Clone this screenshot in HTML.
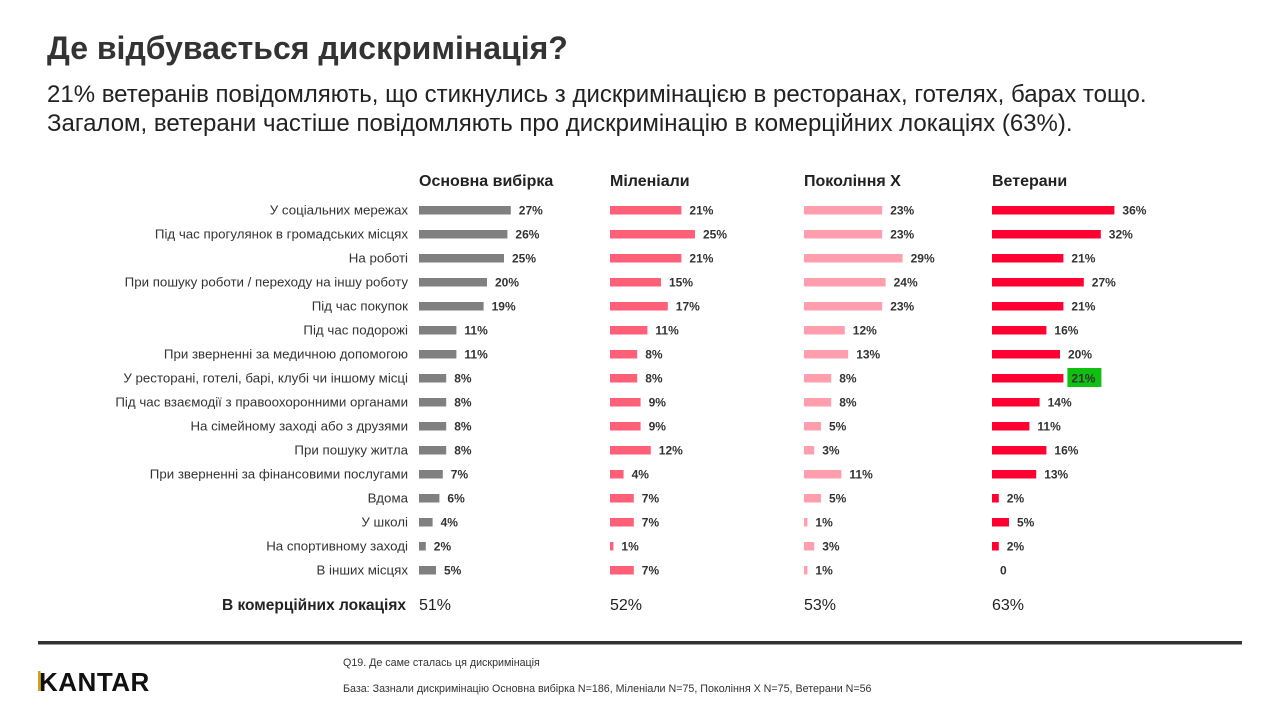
<!DOCTYPE html>
<html><head><meta charset="utf-8"><style>
body{margin:0;width:1280px;height:720px;background:#fff;font-family:"Liberation Sans",sans-serif;color:#333;overflow:hidden;position:relative}
.t{position:absolute;left:47px;top:30px;font-size:32px;font-weight:bold;color:#333}
.s{position:absolute;left:47px;top:80px;font-size:24px;line-height:29px;color:#222}
svg{position:absolute;left:0;top:0}
</style></head><body>
<div class="t">Де відбувається дискримінація?</div>
<div class="s">21% ветеранів повідомляють, що стикнулись з дискримінацією в ресторанах, готелях, барах тощо.<br>Загалом, ветерани частіше повідомляють про дискримінацію в комерційних локаціях (63%).</div>
<svg id="c" width="1280" height="720" xmlns="http://www.w3.org/2000/svg" font-family="Liberation Sans, sans-serif"></svg>
<script>
const labels=["У соціальних мережах","Під час прогулянок в громадських місцях","На роботі","При пошуку роботи / переходу на іншу роботу","Під час покупок","Під час подорожі","При зверненні за медичною допомогою","У ресторані, готелі, барі, клубі чи іншому місці","Під час взаємодії з правоохоронними органами","На сімейному заході або з друзями","При пошуку житла","При зверненні за фінансовими послугами","Вдома","У школі","На спортивному заході","В інших місцях"];
const data=[[27,26,25,20,19,11,11,8,8,8,8,7,6,4,2,5],[21,25,21,15,17,11,8,8,9,9,12,4,7,7,1,7],[23,23,29,24,23,12,13,8,8,5,3,11,5,1,3,1],[36,32,21,27,21,16,20,21,14,11,16,13,2,5,2,0]];
const xs=[419,610,804,992],cols=["#808080","#ff6078","#ff9fae","#ff0030"],heads=["Основна вибірка","Міленіали","Покоління Х","Ветерани"],tot=["51%","52%","53%","63%"];
let s="";
labels.forEach((l,i)=>{const y=210+i*24;s+=`<text x="408" y="${y+4.5}" font-size="13.3" fill="#333" text-anchor="end">${l}</text>`;});
data.forEach((d,c)=>{
 s+=`<text x="${xs[c]}" y="186" font-size="16" font-weight="bold" fill="#222">${heads[c]}</text>`;
 s+=`<text x="${xs[c]}" y="610" font-size="16" fill="#222">${tot[c]}</text>`;
 d.forEach((v,i)=>{const y=210+i*24,w=v*3.4;
  if(v>0)s+=`<rect x="${xs[c]}" y="${y-4}" width="${w}" height="8.5" fill="${cols[c]}"/>`;
  const lx=xs[c]+w+8;
  if(c==3&&i==7)s+=`<rect x="${lx-4}" y="${y-10}" width="34" height="19" fill="#10c010"/>`;
  s+=`<text x="${lx}" y="${y+4.5}" font-size="12" font-weight="bold" fill="#333">${v==0?"0":v+"%"}</text>`;
 });
});
s+=`<text x="406" y="610" font-size="15.5" font-weight="bold" fill="#222" text-anchor="end">В комерційних локаціях</text>`;
s+=`<rect x="38" y="641" width="1204" height="3.5" fill="#333"/>`;
s+=`<rect x="38" y="671" width="2.5" height="20" fill="#d4a017"/>`;
s+=`<text x="39" y="691" font-size="26" font-weight="bold" fill="#111" letter-spacing="0.5">KANTAR</text>`;
s+=`<text x="343" y="666" font-size="10.7" fill="#333">Q19. Де саме сталась ця дискримінація</text>`;
s+=`<text x="343" y="692" font-size="10.7" fill="#333">База: Зазнали дискримінацію Основна вибірка N=186, Міленіали N=75, Покоління Х N=75, Ветерани N=56</text>`;
document.getElementById("c").innerHTML=s;
</script>
</body></html>
